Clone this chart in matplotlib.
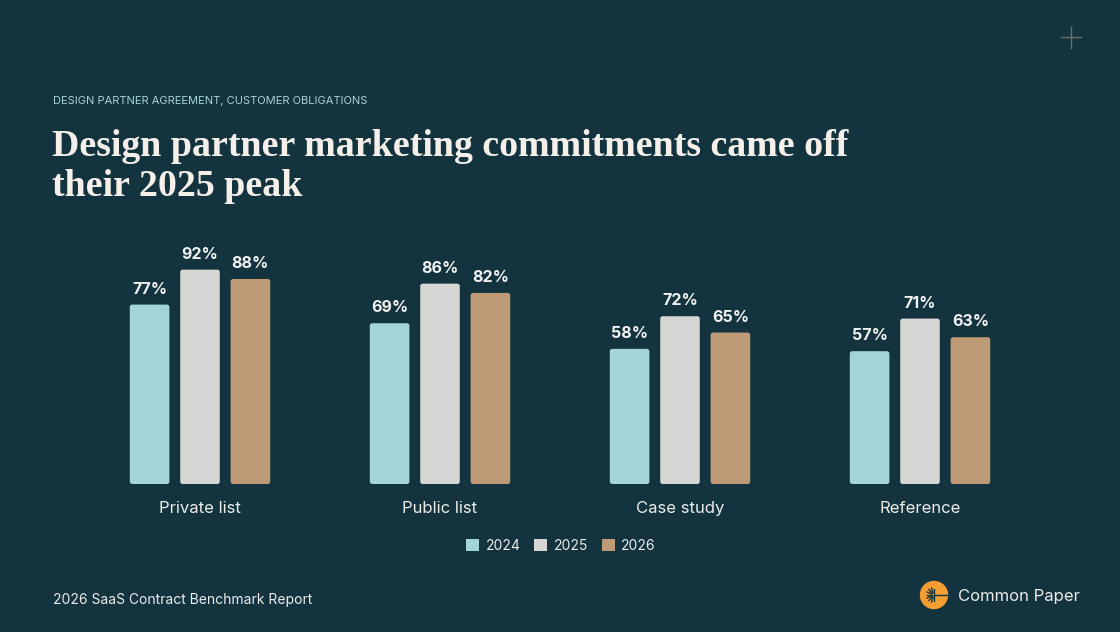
import matplotlib
matplotlib.use("Agg")
import matplotlib.pyplot as plt
from matplotlib.patches import Patch, Circle, FancyBboxPatch
from matplotlib.lines import Line2D
import numpy as np

categories = ["Private list", "Public list", "Case study", "Reference"]
years = ["2024", "2025", "2026"]
values_2024 = [77, 69, 58, 57]
values_2025 = [92, 86, 72, 71]
values_2026 = [88, 82, 65, 63]
series = [values_2024, values_2025, values_2026]
colors = ["#a3d5d6", "#d6d6d5", "#bf9a77"]

BG = "#13343f"
W, H = 1120, 632
fig = plt.figure(figsize=(W / 100, H / 100), dpi=100, facecolor=BG)

def fx(px):
    return px / W

def fy(py):
    return 1 - py / H

ax = fig.add_axes([fx(80), fy(484), 960 / W, 233 / H])
ax.set_facecolor(BG)
x = np.arange(len(categories))
bw = 0.165
off = 0.21
rx = 2.5 / 240.0   # corner radius in x data units (~2.5 px)
ry = 2.5 / 2.33    # corner radius in y data units
for i, (vals, c) in enumerate(zip(series, colors)):
    bars = ax.bar(x + (i - 1) * off, vals, width=bw, color=c, edgecolor="none")
    for b, v in zip(bars, vals):
        b.set_visible(False)
        fb = FancyBboxPatch((b.get_x(), b.get_y()), b.get_width(), b.get_height(),
                            boxstyle=f"round,pad=0,rounding_size={rx}",
                            mutation_aspect=ry / rx, facecolor=c, edgecolor="none")
        ax.add_patch(fb)
        ax.annotate(f"{v}%", (b.get_x() + b.get_width() / 2, v),
                    xytext=(0, 8), textcoords="offset pixels",
                    ha="center", va="bottom", fontsize=11.5,
                    fontweight="bold", family="Inter", color="#f2f2f0")
ax.set_xlim(-0.5, 3.5)
ax.set_ylim(0, 100)
ax.set_xticks(x)
ax.set_xticklabels(categories, family="Inter", fontsize=12, color="#ecebe8")
ax.tick_params(axis="x", length=0, pad=12.5)
ax.set_yticks([])
for s in ax.spines.values():
    s.set_visible(False)

handles = [Patch(facecolor=c, edgecolor="none", label=y) for c, y in zip(colors, years)]
fig.legend(handles=handles, loc="center", bbox_to_anchor=(fx(561), fy(546)),
           ncol=3, frameon=False, prop={"family": "Inter", "size": 10},
           labelcolor="#ecebe8", handlelength=0.95, handleheight=0.95,
           handletextpad=0.45, columnspacing=1.0, borderaxespad=0)

fig.text(fx(53), fy(104), "DESIGN PARTNER AGREEMENT, CUSTOMER OBLIGATIONS",
         family="Inter", fontsize=8, color="#a9d3d4", ha="left", va="baseline")
t1 = fig.text(fx(52), fy(156), "Design partner marketing commitments came off",
              family="Liberation Serif", fontweight="bold", fontsize=26, color="#f4efe9",
              ha="left", va="baseline")
t2 = fig.text(fx(52), fy(196), "their 2025 peak",
              family="Liberation Serif", fontweight="bold", fontsize=26, color="#f4efe9",
              ha="left", va="baseline")
# fit title width to the reference width (~798 px)
r = fig.canvas.get_renderer()
wpx = t1.get_window_extent(r).width
size = 26 * 798.0 / wpx
t1.set_fontsize(size)
t2.set_fontsize(size)

fig.text(fx(53), fy(600), "2026 SaaS Contract Benchmark Report",
         family="Inter", fontsize=10, color="#ecebe8", ha="left", va="center")
fig.text(fx(958), fy(597), "Common Paper",
         family="Inter", fontsize=12, color="#ecebe8", ha="left", va="center")

# logo
logo = fig.add_axes([fx(919), fy(610), 30 / W, 30 / H])
logo.set_xlim(-15, 15)
logo.set_ylim(-15, 15)
logo.set_aspect("equal")
logo.axis("off")
logo.add_patch(Circle((0, 0), 13.5, color="#f59e33"))
logo.plot([0, 13.5], [0, 0], color="#13343f", lw=1.0)
logo.plot([0, 0], [-6, 6], color="#13343f", lw=1.0)
for ang in np.linspace(110, 250, 7):
    rr = np.deg2rad(ang)
    logo.plot([2.5 * np.cos(rr), 7.5 * np.cos(rr)], [2.5 * np.sin(rr), 7.5 * np.sin(rr)],
              color="#13343f", lw=1.0)

# plus sign top right
fig.add_artist(Line2D([fx(1061), fx(1081)], [fy(37), fy(37)], color="#6e6e66", lw=1.0))
fig.add_artist(Line2D([fx(1071), fx(1071)], [fy(27), fy(48)], color="#6e6e66", lw=1.0))

fig.savefig("out.png", dpi=100, facecolor=BG)
